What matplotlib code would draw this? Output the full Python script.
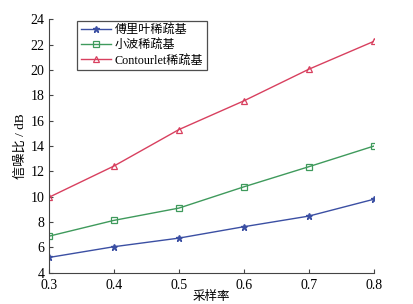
import matplotlib.pyplot as plt

# sampling rates and SNR values
rates = [0.3, 0.4, 0.5, 0.6, 0.7, 0.8]
snr_fourier = [5.2, 6.05, 6.73, 7.63, 8.47, 9.8]
snr_wavelet = [6.88, 8.13, 9.1, 10.78, 12.37, 14.0]
snr_contourlet = [9.95, 12.42, 15.3, 17.57, 20.07, 22.27]
labels = ['傅里叶稀疏基', '小波稀疏基', 'Contourlet稀疏基']

fonts = ['Liberation Serif', 'Noto Sans CJK SC']
plt.rcParams['font.family'] = fonts

fig = plt.figure(figsize=(4.14, 3.04), dpi=100)
ax = fig.add_axes([0.118, 0.103, 0.785, 0.833])

ax.plot(rates, snr_fourier, color='#3b4fa3', lw=1.0, marker='*', ms=5,
        label=labels[0])
ax.plot(rates, snr_wavelet, color='#3f9a5c', lw=1.0, marker='s', ms=5,
        mfc='none', mew=0.9, label=labels[1])
ax.plot(rates, snr_contourlet, color='#d8405f', lw=1.0, marker='^', ms=5,
        mfc='none', mew=0.9, label=labels[2])

ax.set_xlim(0.3, 0.8)
ax.set_ylim(4, 24)
ax.set_xticks(rates)
ax.set_xticklabels(['%.1f' % r for r in rates])
ax.set_yticks(range(4, 25, 2))
ax.tick_params(direction='in', labelsize=10, length=3, width=0.8,
               color='#444444')
ax.tick_params(axis='x', pad=4.5)
ax.tick_params(axis='y', pad=3)
for s in ['top', 'right']:
    ax.spines[s].set_visible(False)
for s in ['left', 'bottom']:
    ax.spines[s].set_color('#444444')
    ax.spines[s].set_linewidth(0.8)

ax.set_xlabel('采样率', fontsize=9, labelpad=-1)
ax.set_ylabel('信噪比 / dB', fontsize=9.5, labelpad=3)

leg = ax.legend(loc='upper left', bbox_to_anchor=(0.088, 0.995), fontsize=8.7,
                frameon=True, fancybox=False, edgecolor='#222222',
                borderpad=0.3, labelspacing=0.25, handlelength=2.5,
                handletextpad=0.3, borderaxespad=0.0)
leg.get_frame().set_linewidth(0.9)

fig.savefig('out.png', dpi=100)
